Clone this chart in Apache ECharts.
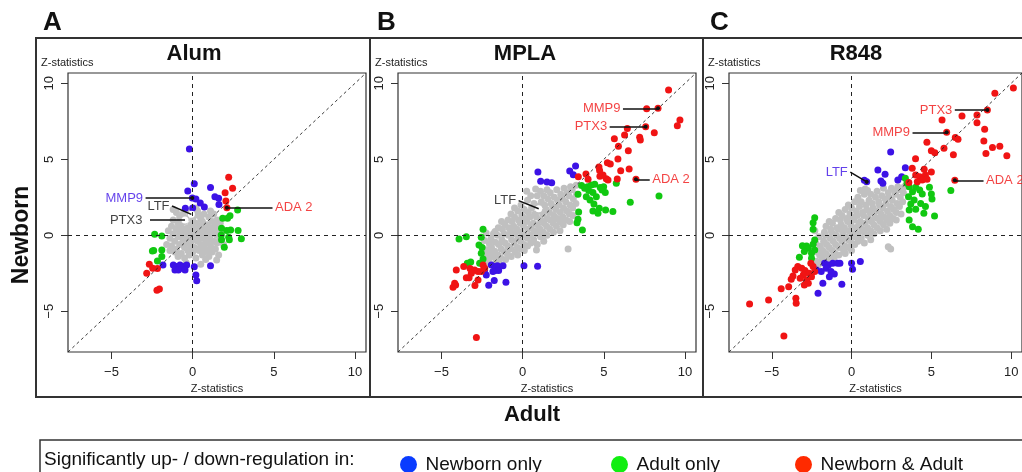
<!DOCTYPE html>
<html>
<head>
<meta charset="utf-8">
<script src="https://cdn.jsdelivr.net/npm/echarts@6/dist/echarts.min.js"></script>
<style>
  body { margin: 0; background: #fff; }
  #main { width: 1022px; height: 472px; }
</style>
</head>
<body>
<div id="main"></div>
<script type="text/javascript">
// ---- data (Z-statistics: x = Adult, y = Newborn) ----
var tickValues = [-5, 0, 5, 10];
var panelLetters = ['A', 'B', 'C'];
var panelTitles = ['Alum', 'MPLA', 'R848'];
var legendNames = ['Newborn only', 'Adult only', 'Newborn & Adult'];

// A: Alum
var alumGrey = [[-1.5,0.3],[-1.4,-0.2],[-1.3,0.6],[-1.3,-0.7],[-1.2,0.1],[-1.2,1.0],[-1.1,-0.4],[-1.1,-1.1],[-1.0,0.4],[-1.0,-0.9],
  [-0.9,0.8],[-0.9,-0.1],[-0.9,-1.4],[-0.8,0.2],[-0.8,1.2],[-0.8,-0.6],[-0.7,-1.2],[-0.7,0.6],[-0.6,-0.3],[-0.6,1.4],
  [-0.6,0.0],[-0.5,-0.8],[-0.5,0.9],[-0.5,-1.5],[-0.4,0.3],[-0.4,-0.5],[-0.4,1.1],[-0.3,-1.0],[-0.3,0.5],[-0.3,-0.2],
  [-0.2,1.5],[-0.2,0.0],[-0.2,-1.3],[-0.1,0.7],[-0.1,-0.6],[-0.1,0.2],[0.0,1.0],[0.0,-0.3],[0.0,-1.1],[0.1,0.4],
  [0.1,-0.8],[0.1,1.3],[0.2,0.0],[0.2,-1.5],[0.2,0.8],[0.3,-0.4],[0.3,0.3],[0.3,1.6],[0.4,-1.0],[0.4,0.6],
  [0.4,-0.1],[0.5,1.1],[0.5,-0.6],[0.5,0.2],[0.6,-1.3],[0.6,0.9],[0.6,-0.2],[0.7,0.5],[0.7,-0.8],[0.7,1.4],
  [0.8,0.1],[0.8,-0.5],[0.8,-1.6],[0.9,0.7],[0.9,-1.0],[0.9,0.3],[1.0,1.2],[1.0,-0.3],[1.0,-1.4],[1.1,0.5],
  [1.1,-0.7],[1.1,0.0],[1.2,0.9],[1.2,-1.1],[1.3,0.3],[1.3,-0.4],[1.3,1.4],[1.4,-0.9],[1.4,0.7],[1.5,0.0],
  [1.5,-0.5],[1.5,1.0],[1.6,-1.3],[1.6,0.4],[1.7,-0.2],[1.7,0.8],[1.8,0.2],[-1.2,1.7],[1.48,-1.62],[-1.6,-0.6],
  [1.9,-0.6],[-0.4,-1.8],[0.5,-1.9],[0.2,1.8],[-1.0,1.5],[1.1,1.6],[-1.4,-1.0],[0.0,0.1],[0.3,-0.9],[-0.6,0.4],
  [0.6,0.6],[-0.2,-0.9],[0.9,-0.1],[-0.9,0.5],[0.4,1.3],[-0.5,-0.2],[1.2,0.2],[0.7,-1.1]];
var alumBlue = [[-0.2,5.68],[0.1,3.4],[-0.3,2.92],[-0.02,2.45],[0.2,2.39],[0.47,2.13],[0.72,1.86],[-0.45,1.78],[0.0,1.8],
  [1.1,3.14],[1.37,2.54],[1.6,2.43],[1.62,2.02],[-1.83,-1.95],[-1.19,-1.95],[-0.98,-2.06],[-0.78,-1.95],[-0.57,-2.06],
  [-0.37,-1.95],[-1.09,-2.28],[-0.88,-2.28],[-0.66,-2.17],[-0.47,-2.28],[0.1,-2.07],[0.2,-2.61],[0.25,-2.99],[1.1,-2.0]];
var alumGreen = [[2.77,1.67],[1.85,1.12],[2.15,1.12],[2.3,1.29],[1.78,0.46],[2.1,0.31],[2.34,0.35],[2.8,0.31],[1.76,0.02],
  [2.22,-0.13],[3.0,-0.22],[1.78,-0.3],[2.26,-0.3],[1.95,-0.79],[-2.34,0.07],[-1.9,-0.04],[-2.4,-1.0],[-2.48,-1.03],
  [-1.9,-0.96],[-1.9,-1.4],[-2.17,-1.69]];
var alumRed = [[2.22,3.82],[2.46,3.09],[2.0,2.8],[2.05,2.26],[2.11,1.82],[-2.67,-1.9],[-2.46,-2.17],[-2.83,-2.5],
  [-2.17,-2.19],[-2.05,-3.53],[-2.2,-3.62]];
var alumMarked = [[-0.08,1.38],[-0.47,1.0]];
var alumGenes = [
  { gene: 'MMP9', group: 0, point: [-0.02, 2.45], anchor: [-2.9, 2.45], side: 'left' },
  { gene: 'LTF', group: -1, point: [-0.08, 1.38], anchor: [-1.27, 1.93], side: 'left', open: true },
  { gene: 'PTX3', group: -1, point: [-0.47, 1.0], anchor: [-2.63, 1.0], side: 'left', open: true },
  { gene: 'ADA 2', group: 2, point: [2.11, 1.82], anchor: [4.92, 1.82], side: 'right' }
];

// B: MPLA
var mplaGrey = [[-2.32,-1.52],[-2.26,-0.95],[-2.2,-1.85],[-2.18,-1.25],[-2.05,-0.55],[-2.1,-1.6],[-2.0,-1.1],[-1.95,-0.2],
  [-1.88,-1.4],[-1.92,-0.8],[-1.85,-1.95],[-1.8,0.1],[-1.72,-1.05],[-1.68,-0.45],[-1.65,-1.6],[-1.7,0.25],
  [-1.52,-1.3],[-1.48,-0.6],[-1.55,0.0],[-1.45,-1.8],[-1.5,0.5],[-1.32,-0.9],[-1.28,-0.3],[-1.35,-1.5],[-1.25,0.4],[-1.3,0.9],
  [-1.12,-1.1],[-1.08,-0.5],[-1.15,0.1],[-1.05,-1.6],[-1.1,0.7],[-0.92,-0.7],[-0.88,0.0],[-0.95,-1.2],[-0.85,0.5],[-0.9,1.0],
  [-0.72,-0.9],[-0.68,-0.3],[-0.75,0.3],[-0.65,0.9],[-0.7,-1.4],[-0.72,1.4],[-0.52,-0.5],[-0.48,0.1],[-0.55,0.6],[-0.45,-1.1],[-0.5,1.2],
  [-0.32,-0.8],[-0.28,-0.2],[-0.35,0.4],[-0.25,1.0],[-0.3,1.6],[-0.3,-1.3],[-0.12,-0.4],[-0.08,0.2],[-0.15,0.8],[-0.05,1.3],[-0.1,-0.9],[-0.1,2.0],
  [0.08,-0.6],[0.12,0.0],[0.05,0.6],[0.15,1.1],[0.1,1.7],[0.1,-1.0],[0.28,-0.2],[0.32,0.4],[0.25,0.9],[0.35,1.5],[0.3,2.3],[0.3,-0.7],
  [0.48,0.0],[0.52,0.6],[0.45,1.2],[0.55,1.8],[0.5,-0.5],[0.5,2.6],[0.68,-0.3],[0.72,0.3],[0.65,0.8],[0.75,1.4],[0.7,2.1],[0.8,3.05],
  [0.88,0.1],[0.92,0.7],[0.85,1.2],[0.95,1.9],[0.9,-0.6],[0.9,2.6],[1.08,0.4],[1.12,1.0],[1.05,1.6],[1.15,2.2],[1.1,-0.1],[1.1,2.9],
  [1.28,0.2],[1.32,0.8],[1.25,1.4],[1.35,2.0],[1.3,2.6],[1.3,-0.4],[1.48,0.6],[1.52,1.1],[1.45,1.7],[1.55,2.4],[1.5,0.0],[1.5,3.0],
  [1.68,0.4],[1.72,1.0],[1.65,1.5],[1.75,2.1],[1.7,2.8],[1.88,0.8],[1.92,1.3],[1.85,1.9],[1.95,2.5],[1.9,0.2],
  [2.08,0.6],[2.12,1.1],[2.05,1.7],[2.15,2.3],[2.1,3.0],[2.28,0.9],[2.32,1.5],[2.25,2.0],[2.35,2.7],[2.3,0.3],
  [2.48,1.2],[2.52,1.8],[2.45,2.4],[2.55,3.1],[2.5,0.7],[2.68,1.0],[2.72,1.6],[2.65,2.2],[2.75,2.8],
  [2.88,1.4],[2.92,2.0],[2.85,2.6],[2.95,3.2],[2.9,0.9],[3.08,1.8],[3.12,2.4],[3.05,3.0],[3.1,1.3],[3.28,2.1],[3.32,2.7],[3.3,3.3],
  [2.8,-0.9],[0.85,-0.97],[-2.35,-0.35],[-2.25,0.15],[0.25,2.9],[-0.5,1.8]];
var mplaBlue = [[0.94,4.17],[1.11,3.55],[1.5,3.51],[1.79,3.46],[2.9,4.23],[3.26,4.56],[3.12,3.99],[0.08,-2.0],[0.92,-2.04],
  [-1.93,-1.95],[-1.72,-2.06],[-1.56,-2.0],[-1.68,-2.32],[-1.48,-2.32],[-1.83,-2.39],[-2.24,-2.61],[-1.21,-2.0],[-2.34,-2.28],
  [-2.09,-3.29],[-1.75,-2.98],[-1.03,-3.09]];
var mplaGreen = [[3.41,2.7],[3.63,3.27],[4.0,3.2],[4.23,3.31],[4.44,3.36],[4.07,2.94],[4.33,2.81],[3.92,2.54],[4.54,2.54],
  [4.78,3.14],[4.99,3.2],[5.09,2.81],[4.89,2.98],[5.77,3.42],[4.15,2.32],[4.39,2.06],[4.33,1.6],[4.64,1.45],[4.72,1.78],
  [5.11,1.67],[5.56,1.56],[6.63,2.17],[8.4,2.59],[3.45,1.54],[3.41,1.05],[3.35,0.83],[3.68,0.35],[3.82,3.09],
  [-3.92,-0.24],[-3.47,-0.09],[-2.44,0.39],[-2.55,-0.13],[-2.69,-0.64],[-2.5,-0.81],[-2.55,-1.18],[-2.44,-1.56],
  [-3.2,-1.75],[-3.41,-1.84],[-2.65,-1.84]];
var mplaRed = [[8.99,9.56],[8.34,8.36],[7.64,8.33],[7.58,7.15],[6.45,7.02],[6.28,6.6],[8.11,6.75],[9.69,7.59],[9.53,7.21],
  [7.21,6.45],[7.25,6.27],[5.65,6.36],[5.9,5.86],[6.51,5.56],[5.87,5.02],[4.7,4.5],[4.74,4.27],[5.22,4.77],[5.4,4.69],
  [6.04,4.24],[6.56,4.37],[3.9,4.03],[3.43,3.86],[4.03,3.68],[4.76,3.88],[5.15,3.72],[5.26,3.64],[5.83,3.7],[6.98,3.68],[4.95,3.97],
  [-4.09,-2.28],[-3.63,-2.06],[-3.24,-2.19],[-2.96,-2.28],[-2.44,-1.95],[-2.34,-2.17],[-3.16,-2.5],[-2.75,-2.39],
  [-3.47,-2.79],[-3.3,-2.79],[-4.19,-3.16],[-4.29,-3.42],[-4.13,-3.27],[-2.75,-2.94],[-2.94,-3.31],[-2.55,-2.39],[-2.85,-6.73]];
var mplaMarked = [[0.99,1.75]];
var mplaGenes = [
  { gene: 'MMP9', group: 2, point: [8.34, 8.36], anchor: [6.18, 8.36], side: 'left' },
  { gene: 'PTX3', group: 2, point: [7.58, 7.15], anchor: [5.36, 7.15], side: 'left' },
  { gene: 'LTF', group: -1, point: [0.99, 1.75], anchor: [-0.25, 2.28], side: 'left', open: true },
  { gene: 'ADA 2', group: 2, point: [6.98, 3.68], anchor: [7.83, 3.68], side: 'right' }
];

// C: R848
var r848Grey = [[-2.2,-1.7],[-2.15,-1.1],[-2.25,-0.5],[-2.1,-1.95],[-2.0,-1.3],[-1.95,-0.7],[-2.05,-0.1],[-1.9,-1.8],
  [-1.8,-1.0],[-1.75,-0.4],[-1.85,-1.5],[-1.7,0.2],[-1.6,-1.2],[-1.55,-0.6],[-1.65,0.0],[-1.5,-1.7],[-1.6,0.6],
  [-1.4,-0.8],[-1.35,-0.2],[-1.45,-1.4],[-1.3,0.4],[-1.4,0.9],[-1.2,-1.0],[-1.15,-0.4],[-1.25,0.2],[-1.1,-1.5],[-1.2,0.8],
  [-1.0,-0.6],[-0.95,0.0],[-1.05,-1.2],[-0.9,0.5],[-1.0,1.1],[-0.8,-0.8],[-0.75,-0.2],[-0.85,0.4],[-0.7,1.0],[-0.8,-1.3],[-0.8,1.5],
  [-0.6,-0.4],[-0.55,0.2],[-0.65,0.7],[-0.5,-1.0],[-0.6,1.3],[-0.4,-0.7],[-0.35,-0.1],[-0.45,0.5],[-0.3,1.1],[-0.4,1.7],[-0.4,-1.2],
  [-0.2,-0.3],[-0.15,0.3],[-0.25,0.9],[-0.1,1.4],[-0.2,-0.8],[-0.2,2.0],[0.0,-0.5],[0.05,0.1],[-0.05,0.7],[0.1,1.2],[0.0,1.8],[0.0,-1.0],
  [0.2,-0.1],[0.25,0.5],[0.15,1.0],[0.3,1.6],[0.2,2.2],[0.2,-0.6],[0.4,0.1],[0.45,0.7],[0.35,1.3],[0.5,1.9],[0.4,-0.4],[0.4,2.5],
  [0.6,-0.2],[0.65,0.4],[0.55,0.9],[0.7,1.5],[0.6,2.2],[0.85,3.05],[0.8,0.2],[0.85,0.8],[0.75,1.3],[0.9,2.0],[0.8,-0.5],[0.8,2.7],
  [1.0,0.5],[1.05,1.1],[0.95,1.7],[1.1,2.3],[1.0,0.0],[1.0,2.95],[1.2,0.3],[1.25,0.9],[1.15,1.5],[1.3,2.1],[1.2,2.7],[1.2,-0.3],
  [1.4,0.7],[1.45,1.2],[1.35,1.8],[1.5,2.5],[1.4,0.1],[1.6,0.5],[1.65,1.1],[1.55,1.6],[1.7,2.2],[1.6,2.9],
  [1.8,0.9],[1.85,1.4],[1.75,2.0],[1.9,2.6],[1.8,0.3],[2.0,0.7],[2.05,1.2],[1.95,1.8],[2.1,2.4],[2.0,3.1],
  [2.2,1.0],[2.25,1.6],[2.15,2.1],[2.3,2.8],[2.2,0.4],[2.4,1.3],[2.45,1.9],[2.35,2.5],[2.5,3.1],[2.4,0.8],
  [2.6,1.1],[2.65,1.7],[2.55,2.3],[2.7,2.9],[2.8,1.5],[2.85,2.1],[2.75,2.7],[2.9,3.2],[2.8,1.0],
  [3.0,1.9],[3.05,2.5],[2.95,3.0],[3.1,1.4],[3.2,2.2],[3.25,2.8],[3.3,3.2],
  [2.3,-0.75],[2.45,-0.9],[-2.3,0.3],[0.55,2.95]];
var r848Blue = [[2.45,5.48],[1.65,4.3],[2.1,4.01],[1.84,3.57],[1.96,3.42],[3.37,4.45],[3.14,3.86],[2.9,3.64],[0.8,3.62],[0.95,3.52],
  [0.0,-1.84],[0.06,-2.24],[0.55,-1.73],[-0.61,-3.22],[-1.8,-3.16],[-2.1,-3.82],[-2.2,-2.28],[-1.69,-1.84],[-1.45,-1.95],
  [-1.18,-1.84],[-0.88,-1.84],[-1.59,-2.17],[-1.29,-2.39],[-1.08,-2.54],[-1.9,-2.39],[-1.39,-2.72],[-0.73,-1.84]];
var r848Green = [[3.37,3.75],[3.47,3.42],[3.61,3.2],[4.02,3.16],[4.27,2.98],[3.82,2.87],[4.43,2.72],[4.88,3.16],[3.57,2.54],
  [3.92,2.32],[3.71,2.06],[4.33,2.1],[5.0,2.72],[3.61,1.67],[4.02,1.71],[4.53,1.45],[3.61,1.0],[3.82,0.57],[4.18,0.39],
  [5.2,1.27],[6.22,2.94],[5.04,2.39],[4.63,1.89],
  [-2.31,1.16],[-2.41,0.83],[-2.41,0.39],[-3.08,-0.68],[-2.82,-0.7],[-2.41,-0.59],[-2.31,-0.96],[-2.51,-1.18],
  [-3.27,-1.45],[-2.71,-0.86],[-2.96,-1.07],[-2.51,-1.51],[-2.31,-0.31]];
var r848Red = [[8.98,9.34],[10.14,9.7],[8.51,8.25],[6.92,7.85],[7.86,7.92],[7.86,7.41],[5.67,7.59],[5.96,6.78],[6.5,6.43],
  [6.67,6.32],[8.34,6.98],[8.29,6.2],[8.83,5.78],[9.29,5.86],[8.42,5.39],[9.73,5.23],[5.79,5.72],[4.72,6.12],[5.0,5.56],
  [5.22,5.44],[6.38,5.3],[4.01,5.03],[3.8,4.41],[4.55,4.34],[5.0,4.17],[4.02,3.97],[4.27,3.86],[4.63,3.97],[4.43,3.64],
  [4.73,3.68],[4.12,3.53],[3.59,3.48],[6.47,3.62],
  [-6.39,-4.52],[-5.2,-4.25],[-4.41,-3.51],[-3.94,-3.38],[-3.67,-2.68],[-3.78,-2.89],[-3.49,-4.14],[-3.47,-4.47],[-4.24,-6.62],
  [-3.37,-2.06],[-3.12,-2.17],[-2.92,-2.32],[-2.67,-2.5],[-3.02,-2.6],[-3.22,-2.83],[-2.82,-2.94],[-2.51,-2.72],[-2.71,-3.16],
  [-2.96,-3.27],[-2.41,-2.06],[-2.55,-1.84],[-2.31,-2.39],[-3.53,-2.28]];
var r848Marked = [];
var r848Genes = [
  { gene: 'PTX3', group: 2, point: [8.51, 8.25], anchor: [6.47, 8.25], side: 'left' },
  { gene: 'MMP9', group: 2, point: [5.96, 6.78], anchor: [3.82, 6.78], side: 'left' },
  { gene: 'LTF', group: 0, point: [0.95, 3.52], anchor: [-0.08, 4.16], side: 'left' },
  { gene: 'ADA 2', group: 2, point: [6.47, 3.62], anchor: [8.27, 3.62], side: 'right' }
];

// ---- styling ----
var FONT = 'Liberation Sans, Arial, Helvetica, sans-serif';
var AX_MIN = -7.68, AX_MAX = 10.68;
var greyColor = '#c0c0c0';
var groupColors = ['#3c12e6', '#11c811', '#f01414'];      // plot dots
var legendColors = ['#0a3cff', '#11ee11', '#ff2a00'];     // legend dots (brighter in the figure)
var gridLefts = [68, 398, 729];
var titleX = [194, 525, 856];
var boxX = [36, 370, 703];

var chart = echarts.init(document.getElementById('main'));

var grids = [], xAxes = [], yAxes = [], series = [];
var panels = [
  [alumGrey, alumBlue, alumGreen, alumRed, alumMarked, alumGenes],
  [mplaGrey, mplaBlue, mplaGreen, mplaRed, mplaMarked, mplaGenes],
  [r848Grey, r848Blue, r848Green, r848Red, r848Marked, r848Genes]
];

function minusLabel(v) { return v < 0 ? '\u2212' + (-v) : String(v); }

panels.forEach(function (p, i) {
  grids.push({ left: gridLefts[i], top: 73, width: 298, height: 279, show: true,
    borderColor: '#333', borderWidth: 1.2, backgroundColor: 'transparent' });
  xAxes.push({
    gridIndex: i, type: 'value', min: AX_MIN, max: AX_MAX,
    name: 'Z-statistics', nameLocation: 'middle', nameGap: 26,
    nameTextStyle: { fontSize: 11, color: '#222', fontFamily: FONT },
    axisLine: { show: false, onZero: false }, splitLine: { show: false },
    axisTick: { show: true, length: 7, lineStyle: { color: '#333' }, customValues: tickValues },
    axisLabel: { customValues: tickValues, fontSize: 13, color: '#222', margin: 14, fontFamily: FONT, formatter: minusLabel }
  });
  yAxes.push({
    gridIndex: i, type: 'value', min: AX_MIN, max: AX_MAX,
    axisLine: { show: false, onZero: false }, splitLine: { show: false },
    axisTick: { show: true, length: 7, lineStyle: { color: '#333' }, customValues: tickValues },
    axisLabel: { customValues: tickValues, rotate: 90, fontSize: 13, color: '#222', margin: 12, fontFamily: FONT, formatter: minusLabel }
  });

  series.push({ name: 'not significant', type: 'scatter', xAxisIndex: i, yAxisIndex: i, data: p[0],
    symbolSize: 7, itemStyle: { color: greyColor, opacity: 1 }, z: 2, silent: true });
  for (var g = 0; g < 3; g++) {
    series.push({ name: legendNames[g], type: 'scatter', xAxisIndex: i, yAxisIndex: i, data: p[g + 1],
      symbolSize: 7, itemStyle: { color: groupColors[g], opacity: 1 }, z: 3, silent: true });
  }
  series.push({ name: 'marked', type: 'scatter', xAxisIndex: i, yAxisIndex: i, data: p[4],
    symbol: 'emptyCircle', symbolSize: 5, itemStyle: { color: '#fff', borderColor: '#111', borderWidth: 1.3, opacity: 1 }, z: 4, silent: true });

  // dashed guides: x = 0, y = 0, y = x
  series.push({ name: 'guides', type: 'scatter', xAxisIndex: i, yAxisIndex: i, data: [], z: 6, silent: true,
    markLine: { silent: true, animation: false, symbol: ['none', 'none'], label: { show: false },
      lineStyle: { color: '#222', width: 1, type: [4, 4] },
      data: [
        { xAxis: 0 },
        { yAxis: 0 },
        [{ coord: [AX_MIN, AX_MIN], lineStyle: { type: [3, 3], width: 0.9 } }, { coord: [AX_MAX, AX_MAX] }]
      ] } });

  // gene labels with leader lines
  var genes = p[5];
  series.push({ name: 'genes', type: 'scatter', xAxisIndex: i, yAxisIndex: i, z: 7, silent: true,
    symbolSize: 1, itemStyle: { color: 'transparent' },
    data: genes.map(function (d) {
      return { value: d.anchor, label: { show: true, formatter: d.gene, position: d.side, distance: d.open && d.gene === 'PTX3' ? 7 : 2,
        color: d.group < 0 ? '#111' : groupColors[d.group], fontSize: 13, fontFamily: FONT } };
    }),
    markLine: { silent: true, animation: false, label: { show: false },
      lineStyle: { color: '#111', width: 1.5, type: 'solid' },
      data: genes.map(function (d) {
        return [{ coord: d.anchor, symbol: 'none' },
                { coord: d.point, symbol: d.open ? 'none' : 'circle', symbolSize: 4 }];
      }) } });
});

var graphics = [];
boxX.forEach(function (x, i) {
  graphics.push({ type: 'rect', shape: { x: x, y: 38, width: (i < 2 ? boxX[i + 1] : 1100) - x, height: 359 },
    style: { fill: 'none', stroke: '#333', lineWidth: 2 }, z: 0 });
  graphics.push({ type: 'text', style: { text: panelLetters[i], x: x + 7, y: 23, font: 'bold 26px ' + FONT,
    fill: '#111', textAlign: 'left', textVerticalAlign: 'middle', verticalAlign: 'middle' } });
  graphics.push({ type: 'text', style: { text: panelTitles[i], x: titleX[i], y: 54, font: 'bold 22px ' + FONT,
    fill: '#111', textAlign: 'center', textVerticalAlign: 'middle', verticalAlign: 'middle' } });
  graphics.push({ type: 'text', style: { text: 'Z-statistics', x: x + 5, y: 63, font: '11px ' + FONT,
    fill: '#222', textAlign: 'left', textVerticalAlign: 'middle', verticalAlign: 'middle' } });
});
graphics.push({ type: 'text', x: 22, y: 235, rotation: Math.PI / 2,
  style: { text: 'Newborn', x: 0, y: 0, font: 'bold 23px ' + FONT, fill: '#111',
    textAlign: 'center', textVerticalAlign: 'middle', verticalAlign: 'middle' } });
graphics.push({ type: 'text', style: { text: 'Adult', x: 532, y: 415, font: 'bold 22px ' + FONT, fill: '#111',
    textAlign: 'center', textVerticalAlign: 'middle', verticalAlign: 'middle' } });
graphics.push({ type: 'rect', shape: { x: 40, y: 440, width: 1000, height: 45 },
  style: { fill: 'none', stroke: '#333', lineWidth: 1.5 } });
graphics.push({ type: 'text', style: { text: 'Significantly up- / down-regulation in:', x: 44, y: 460,
    font: '19px ' + FONT, fill: '#111', textAlign: 'left', textVerticalAlign: 'middle', verticalAlign: 'middle' } });

var legendLefts = [395, 606, 790];
var legends = legendNames.map(function (n, k) {
  return { left: legendLefts[k], top: 450, selectedMode: false, icon: 'circle', itemWidth: 24, itemHeight: 17,
    textStyle: { fontSize: 19, color: '#111', fontFamily: FONT },
    data: [{ name: n, itemStyle: { color: legendColors[k], opacity: 1 } }] };
});

var option = {
  animation: false,
  backgroundColor: '#fff',
  textStyle: { fontFamily: FONT },
  grid: grids,
  xAxis: xAxes,
  yAxis: yAxes,
  legend: legends,
  graphic: graphics,
  series: series
};

chart.setOption(option);
</script>
</body>
</html>
